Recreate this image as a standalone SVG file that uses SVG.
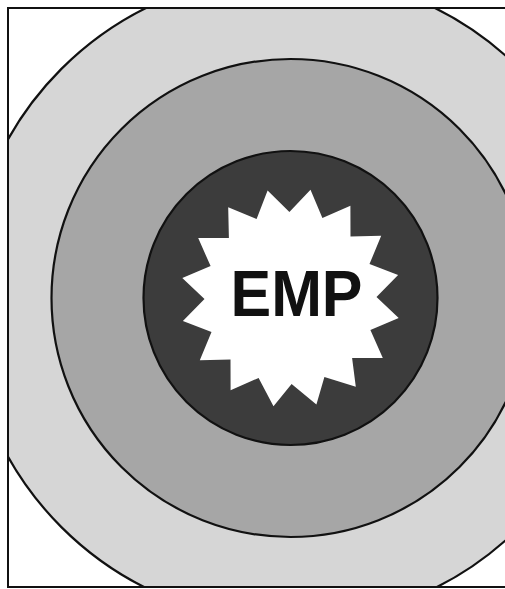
<svg xmlns="http://www.w3.org/2000/svg" width="505" height="589" viewBox="0 0 505 589">
  <style>
    .ring { stroke: #111; stroke-width: 2.2; }
    .label { font-family: "Liberation Sans", Arial, sans-serif; font-weight: bold; fill: #111; }
  </style>
  <defs>
    <clipPath id="frameClip">
      <rect x="8" y="8" width="520" height="579"/>
    </clipPath>
  </defs>
  <rect x="0" y="0" width="505" height="589" fill="#ffffff"/>
  <g clip-path="url(#frameClip)">
    <g id="outer-zone">
      <circle class="ring" cx="290.5" cy="298" r="324" fill="#d6d6d6"/>
    </g>
    <g id="middle-zone">
      <circle class="ring" cx="290.5" cy="298" r="239" fill="#a6a6a6"/>
    </g>
    <g id="inner-zone">
      <circle class="ring" cx="290.5" cy="298" r="147" fill="#3c3c3c"/>
    </g>
  </g>
  <g id="frame">
    <rect x="8" y="8" width="520" height="579" fill="none" stroke="#111" stroke-width="2"/>
  </g>
  <g id="emp-burst">
    <polygon fill="#ffffff" points="267.6,190.4 289.4,212.0 310.5,189.8 322.4,218.1 350.4,205.7 350.5,236.4 381.2,235.7 369.5,264.1 398.1,275.1 376.5,296.9 398.7,318.0 370.4,329.9 382.8,357.9 352.1,358.0 355.8,386.7 324.4,377.0 316.4,404.6 291.6,384.0 273.5,406.2 258.6,377.9 230.6,390.3 230.5,359.6 199.8,360.3 211.5,331.9 182.9,320.9 204.5,299.1 182.3,278.0 210.6,266.1 198.2,238.1 228.9,238.0 228.2,207.3 256.6,219.0"/>
    <text class="label" x="296.5" y="316" font-size="64" text-anchor="middle" textLength="132" lengthAdjust="spacingAndGlyphs">EMP</text>
  </g>
</svg>
